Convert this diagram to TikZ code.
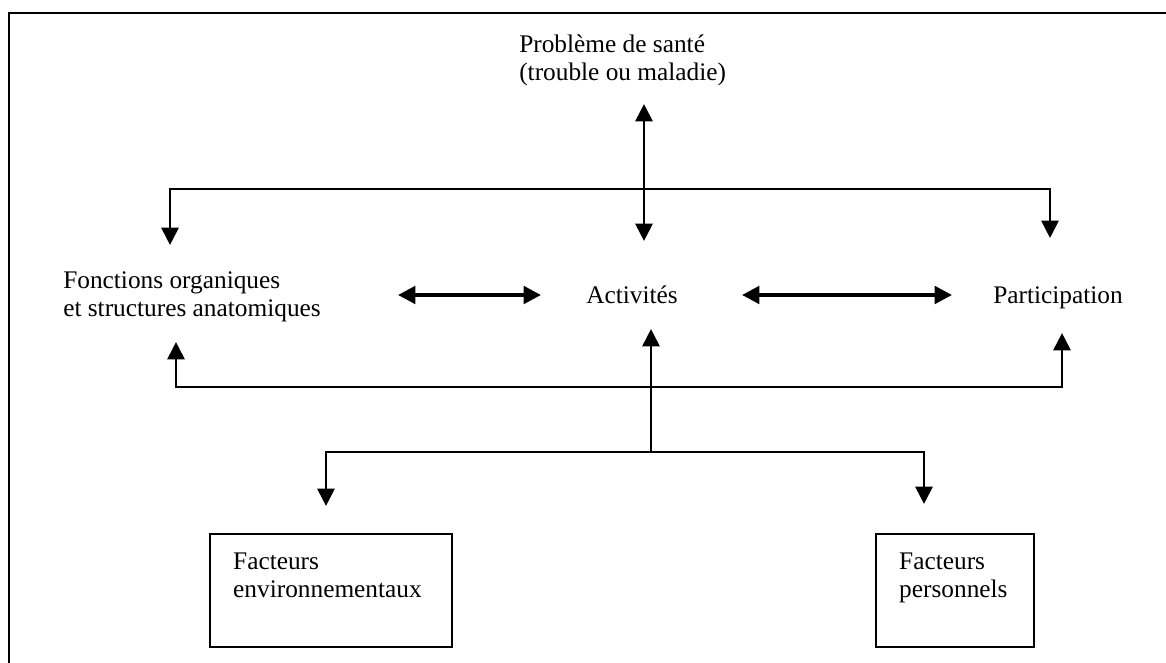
\documentclass[tikz,border=0pt]{standalone}
\usepackage{fontspec}
\setmainfont{Liberation Serif}
\usetikzlibrary{arrows.meta}
\begin{document}
\begin{tikzpicture}[x=0.75pt,y=-0.75pt,
  lbl/.style={inner sep=0pt, font=\fontsize{19}{21}\selectfont, align=left},
  fbox/.style={lbl, draw, line width=1.8pt, inner xsep=17.25pt, inner ysep=0pt, anchor=north west},
  both/.style={line width=2.1pt, {Triangle[length=13pt,width=12.75pt]}-{Triangle[length=13pt,width=12.75pt]}},
  one/.style={line width=2.1pt, -{Triangle[length=13pt,width=12.75pt]}},
  bothH/.style={line width=2.9pt, {Triangle[length=13pt,width=13pt]}-{Triangle[length=13pt,width=13pt]}},
  frame/.style={line width=2pt}]
\useasboundingbox (0,0) rectangle (1166,663);
% frame (top and left edges)
\draw[frame] (9,663) -- (9,13) -- (1166,13);

% nodes
\node[lbl, anchor=north west] (ps) at (519,32.4) {\strut Problème de santé\\\strut(trouble ou maladie)};
\node[lbl, anchor=north west] (fo) at (63,268.4) {\strut Fonctions organiques\\\strut et structures anatomiques};
\node[lbl, anchor=base west] (ac) at (586,303) {Activités};
\node[lbl, anchor=base west] (pa) at (993,303) {Participation};
\node[fbox, text width=147pt] (fe) at (209,533) {\rule{0pt}{26.25pt}Facteurs\\environnementaux\rule[-37.5pt]{0pt}{37.5pt}};
\node[fbox, text width=84pt] (fp) at (875,533) {\rule{0pt}{26.25pt}Facteurs\\personnels\rule[-37.5pt]{0pt}{37.5pt}};

% connector end points
\coordinate (psTip) at (644,104);
\coordinate (acTop) at (644,241);
\coordinate (tl) at (170,189);
\coordinate (tr) at (1050,189);
\coordinate (foTop) at (170,245);
\coordinate (paTop) at (1050,238);
\coordinate (h1a) at (398,295);
\coordinate (h1b) at (541,295);
\coordinate (h2a) at (742,295);
\coordinate (h2b) at (952,295);
\coordinate (bl) at (176,387);
\coordinate (br) at (1062,387);
\coordinate (foBot) at (176,342);
\coordinate (paBot) at (1062,333);
\coordinate (cj) at (651,452);
\coordinate (acBot) at (651,329);
\coordinate (ll) at (326,452);
\coordinate (lr) at (924,452);
\coordinate (feTop) at (326,506);
\coordinate (fpTop) at (924,504);

% connectors
\draw[both] (psTip) -- (acTop);
\draw[both] (foTop) -- (tl) -- (tr) -- (paTop);
\draw[bothH] (h1a) -- (h1b);
\draw[bothH] (h2a) -- (h2b);
\draw[both] (foBot) -- (bl) -- (br) -- (paBot);
\draw[one] (cj) -- (acBot);
\draw[both] (feTop) -- (ll) -- (lr) -- (fpTop);
\end{tikzpicture}
\end{document}
